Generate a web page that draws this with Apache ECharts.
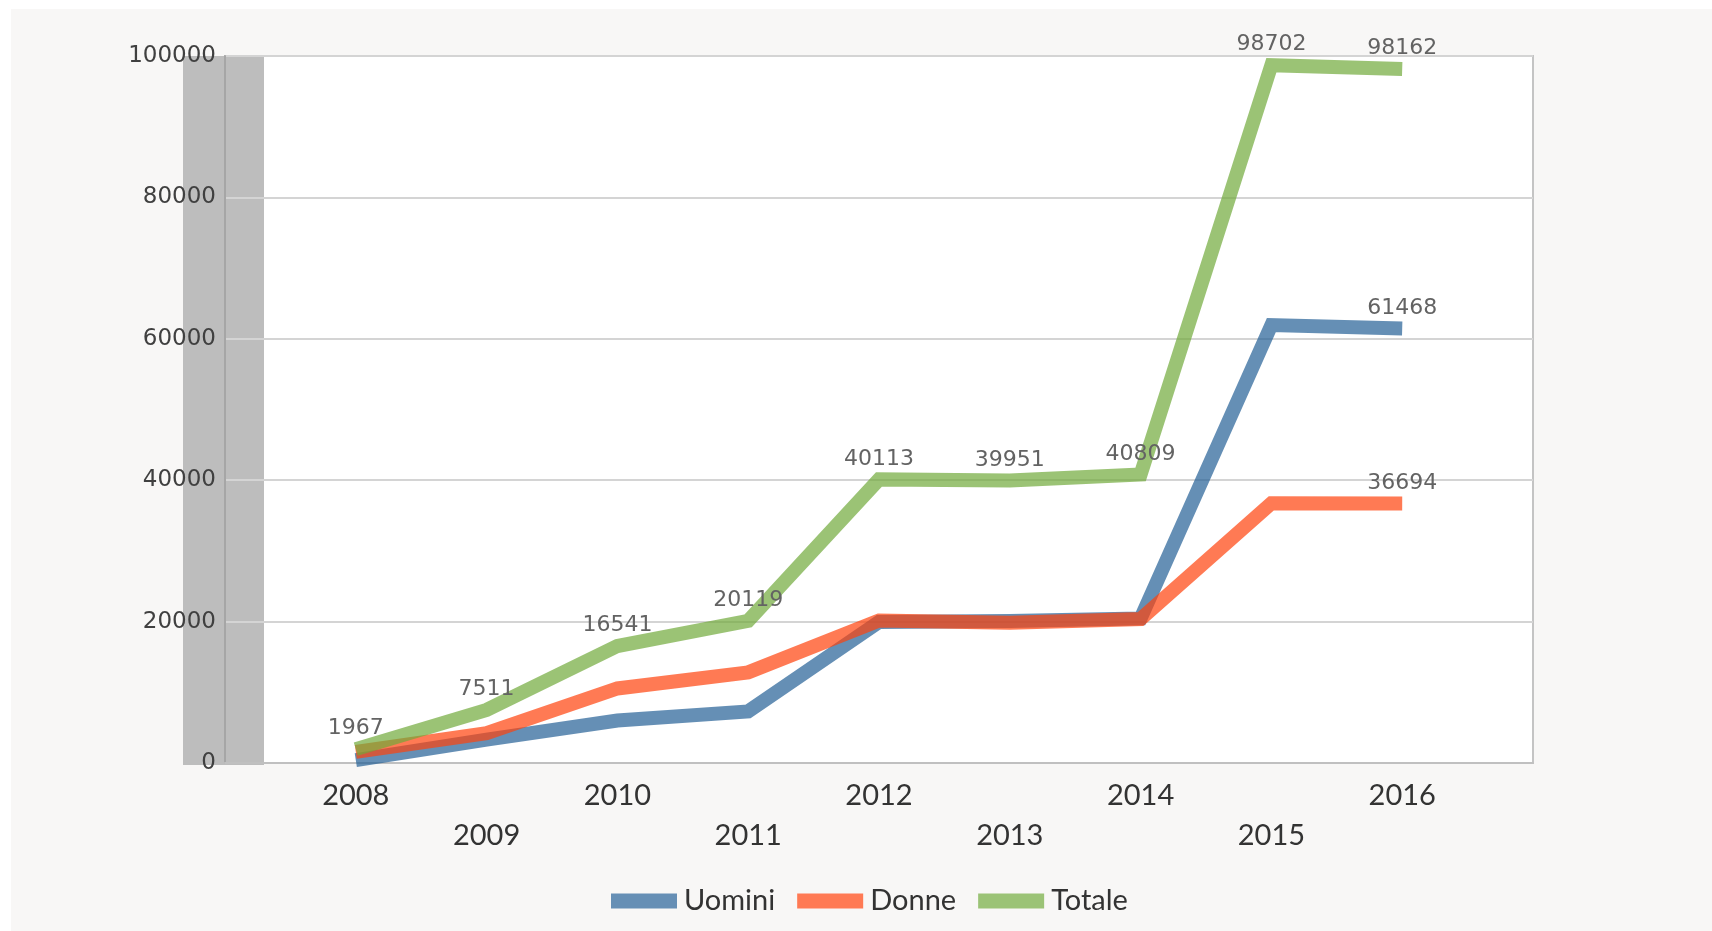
<!DOCTYPE html>
<html>
<head>
<meta charset="utf-8">
<script src="https://cdn.jsdelivr.net/npm/echarts@6/dist/echarts.min.js"></script>
<style>
  html, body { margin: 0; padding: 0; background: #fff; }
  #chart { width: 1712px; height: 931px; }
</style>
</head>
<body>
<div id="chart"></div>
<script>
var anni = [2008, 2009, 2010, 2011, 2012, 2013, 2014, 2015, 2016];
var uomini = [400, 3300, 6000, 7300, 19950, 20100, 20450, 61950, 61468];
var donne = [1567, 4211, 10541, 12819, 20163, 19851, 20359, 36752, 36694];
var totale = [1967, 7511, 16541, 20119, 40113, 39951, 40809, 98702, 98162];
var yTicks = [0, 20000, 40000, 60000, 80000, 100000];

function coppie(valori) {
    let out = [];
    for (let i = 0; i < anni.length; i++) {
        out.push([anni[i], valori[i]]);
    }
    return out;
}

var myChart = echarts.init(document.getElementById('chart'));

var etichetta = function (soloUltimo) {
    return {
        show: true,
        position: 'top',
        distance: 9,
        fontFamily: 'DejaVu Sans',
        fontSize: 22,
        color: '#636363',
        formatter: function (p) {
            if (soloUltimo && p.dataIndex !== anni.length - 1) return '';
            return p.value[1];
        }
    };
};

var linea = function (colore) {
    return { color: colore, width: 14, opacity: 0.7, join: 'miter', cap: 'butt' };
};

// opzioni del grafico
var option = {
    backgroundColor: '#ffffff',
    animation: false,
    graphic: [
        { type: 'rect', z: -1, shape: { x: 11, y: 9, width: 1701, height: 922 }, style: { fill: '#f8f7f6' } },
        { type: 'rect', z: -1, shape: { x: 225, y: 56, width: 1308, height: 707 }, style: { fill: '#ffffff', stroke: '#c4c4c4', lineWidth: 2 } },
        { type: 'rect', z: -1, shape: { x: 183, y: 56, width: 81, height: 709 }, style: { fill: '#bdbdbd' } }
    ],
    grid: { left: 225, right: 179, top: 56, bottom: 168 },
    legend: {
        left: 606,
        top: 881,
        icon: 'rect',
        itemWidth: 66,
        itemHeight: 15,
        itemGap: 22,
        textStyle: { fontFamily: 'Lato', fontSize: 29, color: '#333', lineHeight: 30, padding: [0, 0, 0, 2] },
        data: [
            { name: 'Uomini', itemStyle: { color: '#668fb5', opacity: 1 } },
            { name: 'Donne', itemStyle: { color: '#ff7a54', opacity: 1 } },
            { name: 'Totale', itemStyle: { color: '#9bc376', opacity: 1 } }
        ]
    },
    xAxis: {
        type: 'value',
        min: 2007,
        max: 2017,
        interval: 1,
        splitLine: { show: false },
        axisTick: { show: false },
        axisLine: { lineStyle: { color: '#c0c0c0', width: 2 } },
        axisLabel: {
            margin: 13,
            fontFamily: 'Lato',
            fontSize: 29,
            lineHeight: 40,
            color: '#333',
            formatter: function (v) {
                if (anni.indexOf(v) < 0) return '';
                return v % 2 === 0 ? String(v) : '\n' + v;
            }
        }
    },
    yAxis: {
        type: 'value',
        min: yTicks[0],
        max: yTicks[yTicks.length - 1],
        interval: yTicks[1] - yTicks[0],
        axisLine: { show: true, lineStyle: { color: '#a6a6a6', width: 2 } },
        axisTick: { show: false },
        splitLine: { lineStyle: { color: '#d4d4d4', width: 2 } },
        axisLabel: {
            margin: 9,
            padding: [6, 0, 0, 0],
            fontFamily: 'DejaVu Sans',
            fontSize: 23,
            color: '#404040',
            formatter: function (v) { return String(v); }
        }
    },
    series: [
        {
            name: 'Uomini',
            type: 'line',
            symbol: 'circle',
            symbolSize: 1,
            itemStyle: { color: 'rgba(0,0,0,0)' },
            data: coppie(uomini),
            lineStyle: linea('#245f95'),
            label: etichetta(true)
        },
        {
            name: 'Donne',
            type: 'line',
            symbol: 'circle',
            symbolSize: 1,
            itemStyle: { color: 'rgba(0,0,0,0)' },
            data: coppie(donne),
            lineStyle: linea('#ff410b'),
            label: etichetta(true)
        },
        {
            name: 'Totale',
            type: 'line',
            symbol: 'circle',
            symbolSize: 1,
            itemStyle: { color: 'rgba(0,0,0,0)' },
            data: coppie(totale),
            lineStyle: linea('#70a93b'),
            label: etichetta(false)
        }
    ]
};

myChart.setOption(option);
</script>
</body>
</html>
